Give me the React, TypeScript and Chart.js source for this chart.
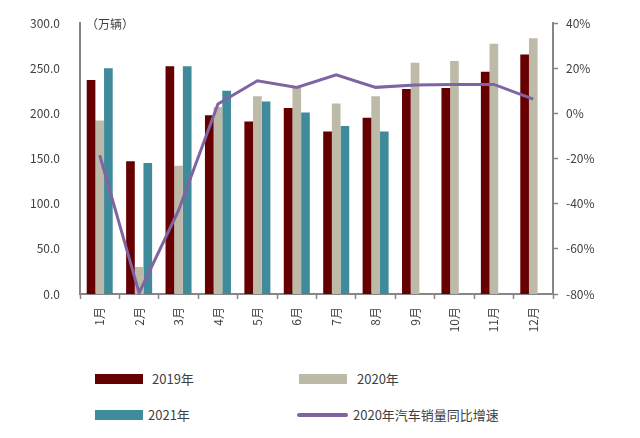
import React, { useEffect, useRef } from 'react';
import { Chart, registerables } from 'chart.js';

Chart.register(...registerables);

const months = ['1月', '2月', '3月', '4月', '5月', '6月', '7月', '8月', '9月', '10月', '11月', '12月'];
const sales2019 = [237, 147, 252, 198, 191, 206, 180, 195, 227, 228, 246, 265];
const sales2020 = [192, 30, 142, 207, 219, 228, 211, 219, 256, 258, 277, 283];
const sales2021 = [250, 145, 252, 225, 213, 201, 186, 180, null, null, null, null];
const growth2020 = [-18.5, -79.5, -43, 4.1, 14.4, 11.5, 17, 11.5, 12.5, 12.8, 12.8, 6.3];

const COLOR_2019 = '#660000';
const COLOR_2020 = '#BDBBA8';
const COLOR_2021 = '#3F8A9B';
const COLOR_LINE = '#8064A2';
const AXIS = '#868686';
const TEXT = '#404040';
const FONT = '"Noto Sans CJK SC", "Noto Sans", sans-serif';

const unitLabel = {
  id: 'unitLabel',
  afterDraw(chart: Chart) {
    const { ctx, chartArea } = chart;
    ctx.save();
    ctx.font = `12px ${FONT}`;
    ctx.fillStyle = TEXT;
    ctx.textBaseline = 'middle';
    ctx.fillText('（万辆）', chartArea.left + 6, chartArea.top + 1);
    ctx.restore();
  },
};

const SalesChart: React.FC = () => {
  const chartRef = useRef<HTMLCanvasElement>(null);
  const chartInstance = useRef<Chart | null>(null);

  useEffect(() => {
    document.body.style.margin = '0';
    if (chartRef.current) {
      if (chartInstance.current) {
        chartInstance.current.destroy();
      }
      const ctx = chartRef.current.getContext('2d');
      if (ctx) {
        chartInstance.current = new Chart(ctx, {
          type: 'bar',
          data: {
            labels: months,
            datasets: [
              { label: '2019年', data: sales2019, backgroundColor: COLOR_2019, yAxisID: 'y', order: 1 },
              { label: '2020年', data: sales2020, backgroundColor: COLOR_2020, yAxisID: 'y', order: 1 },
              { label: '2021年', data: sales2021, backgroundColor: COLOR_2021, yAxisID: 'y', order: 1 },
              {
                type: 'line',
                label: '2020年汽车销量同比增速',
                data: growth2020,
                borderColor: COLOR_LINE,
                backgroundColor: COLOR_LINE,
                borderWidth: 3,
                pointRadius: 0,
                tension: 0,
                yAxisID: 'y1',
                order: 0,
              } as any,
            ],
          },
          options: {
            responsive: true,
            maintainAspectRatio: false,
            animation: false,
            datasets: {
              bar: { categoryPercentage: 0.66, barPercentage: 1.0 },
            },
            layout: { padding: { top: 23, left: 0, right: 0, bottom: 0 } },
            plugins: {
              legend: { display: false },
              tooltip: { enabled: false },
            },
            scales: {
              x: {
                offset: true,
                grid: {
                  display: true,
                  drawOnChartArea: false,
                  offset: true,
                  color: AXIS,
                  tickLength: 5,
                  tickWidth: 1.5,
                },
                border: { display: true, color: AXIS, width: 2 },
                ticks: {
                  minRotation: 90,
                  maxRotation: 90,
                  color: TEXT,
                  font: { family: FONT, size: 12 },
                  padding: 8,
                },
                afterFit: (s: any) => {
                  s.height = 56;
                },
              },
              y: {
                position: 'left',
                min: 0,
                max: 300,
                grid: { display: false },
                border: { display: true, color: AXIS, width: 2 },
                ticks: {
                  stepSize: 50,
                  color: TEXT,
                  font: { family: FONT, size: 12 },
                  padding: 12,
                  callback: (v: any) => Number(v).toFixed(1),
                },
                afterFit: (s: any) => {
                  s.width = 80;
                },
              },
              y1: {
                position: 'right',
                min: -80,
                max: 40,
                grid: {
                  display: true,
                  drawOnChartArea: false,
                  color: AXIS,
                  tickLength: 5,
                  tickWidth: 1.5,
                },
                border: { display: true, color: AXIS, width: 2 },
                ticks: {
                  stepSize: 20,
                  color: TEXT,
                  font: { family: FONT, size: 12 },
                  padding: 8,
                  callback: (v: any) => `${v}%`,
                },
                afterFit: (s: any) => {
                  s.width = 87;
                },
              },
            },
          },
          plugins: [unitLabel],
        });
      }
    }
    return () => {
      if (chartInstance.current) {
        chartInstance.current.destroy();
        chartInstance.current = null;
      }
    };
  }, []);

  return <canvas ref={chartRef} />;
};

const legendItems = [
  { label: '2019年', color: COLOR_2019, line: false, left: 95, top: 374, textLeft: 152 },
  { label: '2020年', color: COLOR_2020, line: false, left: 299, top: 374, textLeft: 357 },
  { label: '2021年', color: COLOR_2021, line: false, left: 95, top: 410, textLeft: 148 },
  { label: '2020年汽车销量同比增速', color: COLOR_LINE, line: true, left: 297, top: 410, textLeft: 353 },
];

const App: React.FC = () => {
  return (
    <div style={{ position: 'relative', width: 640, height: 438, background: '#fff', fontFamily: FONT }}>
      <div style={{ position: 'absolute', left: 0, top: 0, width: 640, height: 350 }}>
        <SalesChart />
      </div>
      {legendItems.map((it) => (
        <React.Fragment key={it.label}>
          <div
            style={{
              position: 'absolute',
              left: it.left,
              top: it.line ? it.top + 3 : it.top,
              width: it.line ? 51 : 48,
              height: it.line ? 4 : 10,
              borderRadius: it.line ? 2 : 0,
              background: it.color,
            }}
          />
          <div
            style={{
              position: 'absolute',
              left: it.textLeft,
              top: it.top - 5,
              fontSize: 13,
              lineHeight: '20px',
              color: TEXT,
              whiteSpace: 'nowrap',
            }}
          >
            {it.label}
          </div>
        </React.Fragment>
      ))}
    </div>
  );
};

export default App;
